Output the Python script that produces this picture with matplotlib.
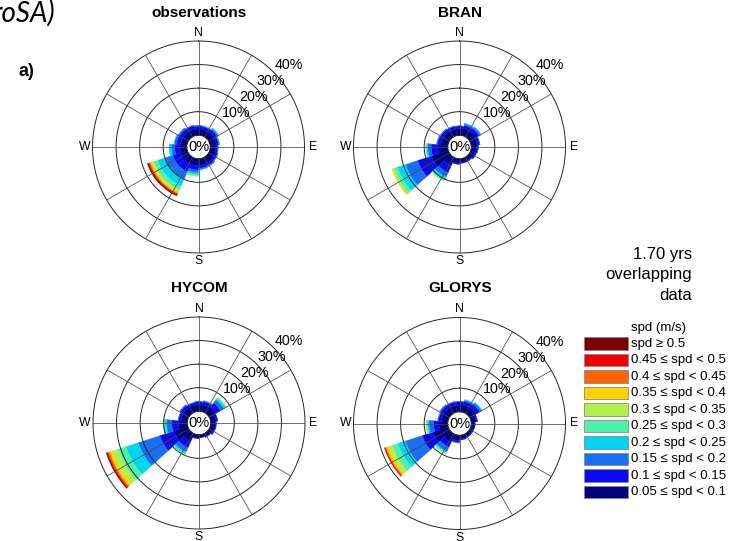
import numpy as np
import matplotlib
matplotlib.use("Agg")
import matplotlib.pyplot as plt
from matplotlib.patches import Rectangle

plt.rcParams['font.family'] = ['Liberation Sans', 'DejaVu Sans']

# ---------------- data ----------------
directions = [0, 24, 48, 72, 96, 120, 144, 168, 192, 216, 240, 264, 288, 312, 336]
speed_labels = ['0.05 \u2264 spd < 0.1', '0.1 \u2264 spd < 0.15', '0.15 \u2264 spd < 0.2',
                '0.2 \u2264 spd < 0.25', '0.25 \u2264 spd < 0.3', '0.3 \u2264 spd < 0.35',
                '0.35 \u2264 spd < 0.4', '0.4 \u2264 spd < 0.45', '0.45 \u2264 spd < 0.5',
                'spd \u2265 0.5']
speed_colors = ['#00007a', '#0a0af0', '#1a6ef2', '#00d6f2', '#4ef0aa',
                '#b2f04c', '#ffd000', '#ff6400', '#ee0000', '#7a0000']
ring_values = [10, 20, 30, 40]
cardinals = ['N', 'E', 'S', 'W']
panel_titles = ['observations', 'BRAN', 'HYCOM', 'GLORYS']

# frequency (%) per direction (rows) and speed class (columns)
obs_freq = [
    [2.6, 1.3, 0.3, 0, 0, 0, 0, 0, 0, 0],
    [2.6, 1.2, 0.3, 0.1, 0, 0, 0, 0, 0, 0],
    [2.7, 1.4, 0.6, 0.3, 0, 0, 0, 0, 0, 0],
    [2.6, 1.0, 0.4, 0, 0, 0, 0, 0, 0, 0],
    [2.4, 0.8, 0.2, 0, 0, 0, 0, 0, 0, 0],
    [2.5, 1.0, 0.3, 0, 0, 0, 0, 0, 0, 0],
    [2.6, 1.2, 0.5, 0, 0, 0, 0, 0, 0, 0],
    [2.7, 1.3, 0.5, 0.1, 0, 0, 0, 0, 0, 0],
    [2.9, 1.9, 1.2, 0.8, 0.5, 0.2, 0, 0, 0, 0],
    [3.0, 3.6, 3.3, 3.3, 1.7, 1.0, 0.6, 0.5, 0.4, 0.3],
    [3.0, 3.5, 3.3, 3.4, 1.7, 1.0, 0.6, 0.5, 0.4, 0.4],
    [2.9, 2.2, 1.5, 0.9, 0, 0, 0, 0, 0, 0],
    [2.7, 1.8, 0.9, 0.1, 0, 0, 0, 0, 0, 0],
    [2.7, 1.7, 0.6, 0, 0, 0, 0, 0, 0, 0],
    [2.7, 1.5, 0.3, 0, 0, 0, 0, 0, 0, 0],
]
bran_freq = [
    [2.8, 1.1, 0.1, 0, 0, 0, 0, 0, 0, 0],
    [3.0, 1.4, 0.7, 0.2, 0, 0, 0, 0, 0, 0],
    [3.0, 1.6, 0.8, 0.2, 0, 0, 0, 0, 0, 0],
    [2.6, 1.0, 0.2, 0, 0, 0, 0, 0, 0, 0],
    [2.2, 0.7, 0.1, 0, 0, 0, 0, 0, 0, 0],
    [2.0, 0.6, 0, 0, 0, 0, 0, 0, 0, 0],
    [1.6, 0.4, 0, 0, 0, 0, 0, 0, 0, 0],
    [1.6, 0.4, 0, 0, 0, 0, 0, 0, 0, 0],
    [1.9, 0.5, 0, 0, 0, 0, 0, 0, 0, 0],
    [3.7, 3.3, 2.0, 1.2, 0.5, 0.3, 0, 0, 0, 0],
    [7.5, 6.2, 5.4, 3.5, 1.6, 0.6, 0.4, 0, 0, 0],
    [4.2, 2.8, 1.5, 0.5, 0.3, 0, 0, 0, 0, 0],
    [3.0, 1.4, 0.4, 0, 0, 0, 0, 0, 0, 0],
    [2.9, 1.3, 0.4, 0, 0, 0, 0, 0, 0, 0],
    [2.8, 1.2, 0.2, 0, 0, 0, 0, 0, 0, 0],
]
hycom_freq = [
    [2.8, 1.2, 0.2, 0, 0, 0, 0, 0, 0, 0],
    [2.9, 1.4, 0.4, 0, 0, 0, 0, 0, 0, 0],
    [3.2, 2.3, 1.7, 0.8, 0.4, 0.1, 0, 0, 0, 0],
    [2.2, 0.8, 0, 0, 0, 0, 0, 0, 0, 0],
    [1.9, 0.5, 0, 0, 0, 0, 0, 0, 0, 0],
    [1.9, 0.5, 0, 0, 0, 0, 0, 0, 0, 0],
    [1.4, 0.3, 0, 0, 0, 0, 0, 0, 0, 0],
    [1.1, 0.2, 0, 0, 0, 0, 0, 0, 0, 0],
    [1.4, 0.3, 0, 0, 0, 0, 0, 0, 0, 0],
    [3.7, 2.8, 2.0, 0.7, 0.4, 0, 0, 0, 0, 0],
    [6.2, 6.3, 9.6, 5.5, 3.5, 2.8, 1.1, 0.7, 0.4, 0.3],
    [3.7, 2.8, 2.2, 0.8, 0.5, 0.3, 0, 0, 0, 0],
    [2.7, 1.1, 0.2, 0, 0, 0, 0, 0, 0, 0],
    [2.9, 1.3, 0.4, 0, 0, 0, 0, 0, 0, 0],
    [2.7, 1.1, 0.2, 0, 0, 0, 0, 0, 0, 0],
]
glorys_freq = [
    [2.9, 1.3, 0.3, 0, 0, 0, 0, 0, 0, 0],
    [3.0, 1.6, 0.6, 0.2, 0, 0, 0, 0, 0, 0],
    [3.1, 1.8, 0.9, 0.3, 0, 0, 0, 0, 0, 0],
    [2.1, 0.6, 0, 0, 0, 0, 0, 0, 0, 0],
    [1.4, 0.3, 0, 0, 0, 0, 0, 0, 0, 0],
    [1.3, 0.3, 0, 0, 0, 0, 0, 0, 0, 0],
    [1.4, 0.3, 0, 0, 0, 0, 0, 0, 0, 0],
    [1.6, 0.4, 0, 0, 0, 0, 0, 0, 0, 0],
    [2.2, 0.8, 0.3, 0, 0, 0, 0, 0, 0, 0],
    [3.7, 2.3, 2.0, 0.6, 0.4, 0.2, 0, 0, 0, 0],
    [6.7, 5.0, 7.5, 3.3, 2.5, 1.7, 1.0, 0.5, 0.3, 0],
    [3.7, 2.3, 2.0, 0.6, 0.4, 0.2, 0, 0, 0, 0],
    [2.8, 1.3, 0.3, 0, 0, 0, 0, 0, 0, 0],
    [2.9, 1.5, 0.5, 0, 0, 0, 0, 0, 0, 0],
    [2.9, 1.4, 0.3, 0, 0, 0, 0, 0, 0, 0],
]
panel_data = [obs_freq, bran_freq, hycom_freq, glorys_freq]

# ---------------- layout ----------------
W, H = 742, 541
fig = plt.figure(figsize=(W / 100, H / 100), dpi=100)

OFFSET = 5.0      # radius of the empty centre (0%)
RMAX = 45.0       # outer ring = 40%
R_PX = 106.0
centers = [(198.5, 147.0), (459.5, 147.0), (199.0, 423.0), (459.5, 423.5)]
title_pos = [(198.5, 13.0), (460.0, 13.0), (199.0, 288.0), (460.5, 288.5)]


def add_rose(cx, cy, freq):
    ax = fig.add_axes([(cx - R_PX) / W, 1 - (cy + R_PX) / H, 2 * R_PX / W, 2 * R_PX / H],
                      projection='polar')
    ax.set_theta_zero_location('N')
    ax.set_theta_direction(-1)
    ax.set_ylim(0, RMAX)
    ax.grid(False)
    ax.set_xticks([])
    ax.set_yticks([])
    ax.spines['polar'].set_visible(False)
    ax.patch.set_alpha(0)

    theta = np.deg2rad(directions)
    width = 2 * np.pi / len(directions)
    f = np.array(freq, dtype=float)
    bottom = np.full(len(directions), OFFSET)
    for k in range(f.shape[1]):
        m = f[:, k] > 0
        if m.any():
            ax.bar(theta[m], f[m, k], width=width, bottom=bottom[m],
                   color=speed_colors[k], edgecolor=speed_colors[k],
                   linewidth=0.25, zorder=2)
        bottom = bottom + f[:, k]

    tt = np.linspace(0, 2 * np.pi, 721)
    for r in [OFFSET] + [v + OFFSET for v in ring_values]:
        ax.plot(tt, np.full_like(tt, r), color='#262626', lw=0.7, zorder=3, clip_on=False)
    for b in range(0, 360, 30):
        ax.plot([np.deg2rad(b)] * 2, [OFFSET, RMAX], color='#474747', lw=0.55, zorder=3)

    for i, c in enumerate(cardinals):
        ax.text(np.deg2rad(90 * i), 48.5, c, ha='center', va='center',
                fontsize=8.8, clip_on=False)
    for v in ring_values:
        ax.text(np.deg2rad(47.8), v + OFFSET + 6.6, f'{v}%', ha='center', va='center',
                fontsize=10.3, clip_on=False, zorder=4)
    ax.text(0, 0, '0%', ha='center', va='center', fontsize=10.5, zorder=4)
    return ax


for (cx, cy), freq in zip(centers, panel_data):
    add_rose(cx, cy, freq)

# overlay for annotations and legend (pixel coordinates)
lax = fig.add_axes([0, 0, 1, 1])
lax.set_xlim(0, W)
lax.set_ylim(H, 0)
lax.axis('off')

for (tx, ty), t in zip(title_pos, panel_titles):
    lax.text(tx, ty, t, ha='center', va='center', fontsize=11, fontweight='bold')

lax.text(26.5, 72, 'a)', ha='center', va='center', fontsize=13, fontweight='bold')
lax.text(55, 13, 'roSA)', ha='right', va='center', fontsize=20, style='italic',
         family=['Lato', 'DejaVu Sans'])

for y, t in zip([254, 275, 295.5], ['1.70 yrs', 'overlapping', 'data']):
    lax.text(692, y, t, ha='right', va='center', fontsize=12)

lax.text(631, 327.5, 'spd (m/s)', ha='left', va='center', fontsize=9.5)
row_y0, row_dy = 343.5, 16.52
for i, k in enumerate(range(len(speed_labels) - 1, -1, -1)):
    y = row_y0 + i * row_dy
    lax.add_patch(Rectangle((584, y - 6.2), 44, 12.4, facecolor=speed_colors[k],
                            edgecolor='#8a8a8a', lw=0.6))
    lax.text(631, y, speed_labels[k], ha='left', va='center', fontsize=9.5)

fig.savefig('out.png', dpi=100)
